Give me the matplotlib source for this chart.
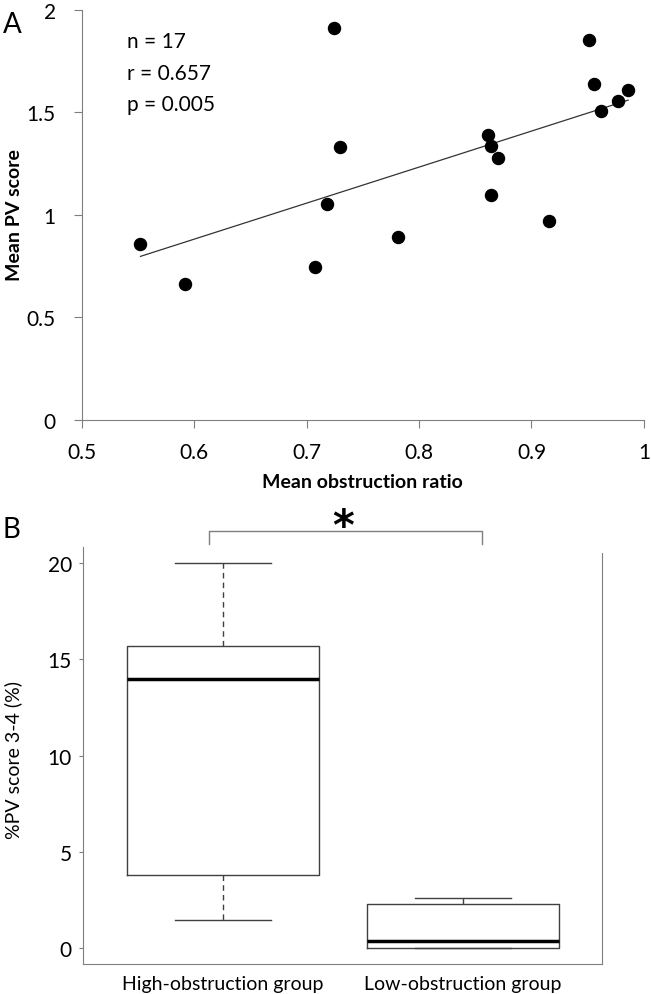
import numpy as np
import matplotlib
matplotlib.use("Agg")
import matplotlib.pyplot as plt

plt.rcParams['font.family'] = ['Lato', 'DejaVu Sans']

# panel A data: mean obstruction ratio vs mean PV score
obstruction = [0.724, 0.951, 0.956, 0.986, 0.977, 0.962, 0.861, 0.864, 0.870,
               0.730, 0.864, 0.718, 0.552, 0.592, 0.707, 0.781, 0.916]
pv_score = [1.913, 1.853, 1.640, 1.607, 1.553, 1.508, 1.390, 1.336, 1.276,
            1.331, 1.095, 1.053, 0.855, 0.663, 0.743, 0.889, 0.967]
stats_text = ["n = 17", "r = 0.657", "p = 0.005"]

# panel B data: box summaries
groups = ["High-obstruction group", "Low-obstruction group"]
whis_lo = [1.47, 0.0]
q1 = [3.79, 0.0]
median = [13.96, 0.38]
q3 = [15.67, 2.30]
whis_hi = [20.0, 2.61]

gray = '#7f7f7f'

fig = plt.figure(figsize=(6.51, 9.95), dpi=100)

# ---------- A ----------
ax = fig.add_axes([0.126, 0.5772, 0.863, 0.412])
ax.scatter(obstruction, pv_score, s=75, c='black', zorder=3)
k, b = np.polyfit(obstruction, pv_score, 1)
xs = np.array([min(obstruction), max(obstruction)])
ax.plot(xs, k * xs + b, color='#333333', lw=0.9)
ax.set_xlim(0.5, 1.0)
ax.set_ylim(0, 2)
ax.set_xticks([0.5, 0.6, 0.7, 0.8, 0.9, 1.0])
ax.set_xticklabels(['0.5', '0.6', '0.7', '0.8', '0.9', '1'])
ax.set_yticks([0, 0.5, 1, 1.5, 2])
ax.set_yticklabels(['0', '0.5', '1', '1.5', '2'])
for s in ['top', 'right']:
    ax.spines[s].set_visible(False)
for s in ['left', 'bottom']:
    ax.spines[s].set_color(gray)
ax.tick_params(axis='both', direction='out', length=6, color=gray, labelsize=15)
ax.tick_params(axis='y', pad=13)
ax.tick_params(axis='x', pad=10)
for t, yv in zip(stats_text, [1.816, 1.660, 1.510]):
    ax.text(0.540, yv, t, fontsize=15, va='baseline')
fig.text(0.023, 0.784, 'Mean PV score', rotation=90, fontsize=14,
         fontweight='bold', ha='center', va='center')
fig.text(0.556, 0.515, 'Mean obstruction ratio', fontsize=14,
         fontweight='bold', ha='center', va='center')
fig.text(0.004, 0.975, 'A', fontsize=20, ha='left', va='center')

# ---------- B ----------
bx = fig.add_axes([0.1275, 0.0298, 0.7975, 0.4194])
bstats = []
for i in range(len(groups)):
    bstats.append(dict(med=median[i], q1=q1[i], q3=q3[i],
                       whislo=whis_lo[i], whishi=whis_hi[i], fliers=[]))
bx.bxp(bstats, positions=[1, 2], widths=0.8, showfliers=False,
       boxprops=dict(color='#404040', lw=1.0),
       medianprops=dict(color='black', lw=2.5),
       whiskerprops=dict(color='#404040', lw=1.0, linestyle=(0, (4, 3))),
       capprops=dict(color='#404040', lw=1.0), capwidths=0.4)
bx.set_xlim(0.418, 2.582)
bx.set_ylim(-0.85, 20.83)
bx.set_yticks([0, 5, 10, 15, 20])
bx.set_xticks([1, 2])
bx.set_xticklabels(groups)
bx.spines['top'].set_visible(False)
for s in ['left', 'bottom', 'right']:
    bx.spines[s].set_color(gray)
bx.spines['right'].set_bounds(-0.85, 20.52)
bx.tick_params(axis='y', direction='out', length=3, color=gray, labelsize=15, pad=5)
bx.tick_params(axis='x', length=0, labelsize=14, pad=8)
fig.text(0.021, 0.236, '%PV score 3-4 (%)', rotation=90, fontsize=14,
         ha='center', va='center')

# significance bracket
bx.plot([0.944, 0.944, 2.082, 2.082], [20.99, 21.68, 21.68, 20.99],
        color=gray, lw=1.0, clip_on=False)
fig.text(0.527, 0.4573, '*', fontsize=30, fontweight='bold', family='DejaVu Sans',
         ha='center', va='baseline')
fig.text(0.004, 0.467, 'B', fontsize=20, ha='left', va='center')

fig.savefig('out.png', dpi=100)
